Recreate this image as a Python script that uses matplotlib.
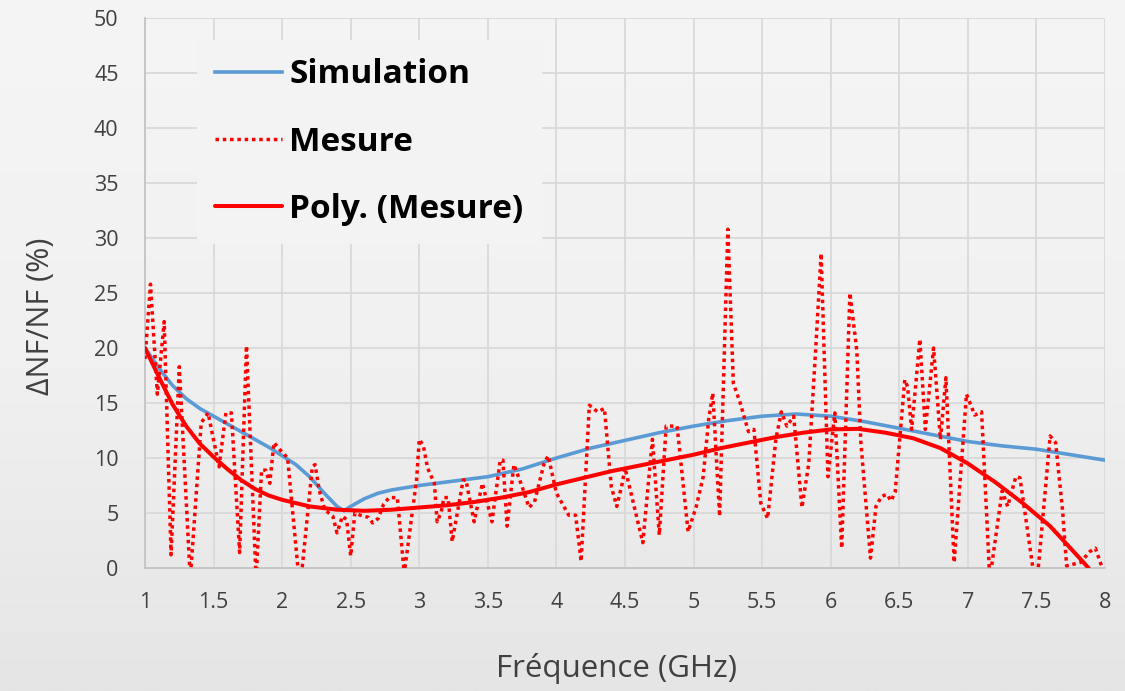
import matplotlib
matplotlib.use("Agg")
import matplotlib.pyplot as plt
from matplotlib.colors import LinearSegmentedColormap
import numpy as np

# ---- data ----
sim_x = [1.0, 1.1, 1.2, 1.3, 1.4, 1.5, 1.6, 1.7, 1.8, 1.9, 2.0, 2.1, 2.2, 2.3, 2.4, 2.45,
         2.5, 2.6, 2.7, 2.8, 3.0, 3.25, 3.5, 3.75, 4.0, 4.25, 4.5, 4.75, 5.0, 5.25, 5.5,
         5.75, 6.0, 6.25, 6.5, 6.75, 7.0, 7.25, 7.5, 7.75, 8.0]
sim_y = [20.0, 18.2, 16.6, 15.4, 14.5, 13.8, 13.1, 12.4, 11.7, 11.0, 10.2, 9.4, 8.3, 6.9, 5.6, 5.2,
         5.6, 6.3, 6.8, 7.1, 7.5, 7.9, 8.3, 9.0, 10.0, 10.9, 11.6, 12.3, 12.9, 13.4, 13.8,
         14.0, 13.8, 13.3, 12.7, 12.1, 11.5, 11.1, 10.8, 10.3, 9.8]

mes_x = [1.0, 1.04, 1.09, 1.14, 1.19, 1.25, 1.33, 1.41, 1.46, 1.54, 1.59, 1.63, 1.69, 1.74,
         1.81, 1.85, 1.88, 1.91, 1.94, 1.98, 2.04, 2.13, 2.22, 2.24, 2.27, 2.31, 2.37, 2.40,
         2.44, 2.47, 2.50, 2.53, 2.57, 2.63, 2.66, 2.70, 2.74, 2.78, 2.84, 2.89, 2.98, 3.00,
         3.03, 3.06, 3.11, 3.13, 3.16, 3.18, 3.21, 3.24, 3.32, 3.34, 3.40, 3.46, 3.53, 3.59,
         3.61, 3.64, 3.69, 3.75, 3.80, 3.84, 3.91, 3.94, 4.00, 4.09, 4.14, 4.18, 4.24, 4.30,
         4.35, 4.40, 4.44, 4.48, 4.50, 4.63, 4.70, 4.75, 4.80, 4.88, 4.96, 5.02, 5.07, 5.11,
         5.14, 5.19, 5.25, 5.29, 5.34, 5.40, 5.44, 5.49, 5.54, 5.60, 5.64, 5.68, 5.73, 5.79,
         5.84, 5.89, 5.93, 5.98, 6.03, 6.08, 6.14, 6.19, 6.22, 6.29, 6.33, 6.37, 6.41, 6.44,
         6.47, 6.54, 6.56, 6.59, 6.65, 6.69, 6.75, 6.80, 6.84, 6.90, 6.99, 7.05, 7.10, 7.16,
         7.25, 7.29, 7.35, 7.38, 7.48, 7.51, 7.60, 7.64, 7.69, 7.72, 7.82, 7.89, 7.93, 7.98,
         8.0]
mes_y = [19.0, 25.8, 15.8, 22.4, 1.2, 18.3, -1.0, 13.2, 14.1, 9.2, 14.1, 14.1, 1.4, 20.2,
         -1.0, 8.9, 8.9, 7.7, 11.4, 10.8, 10.0, -2.0, 9.2, 9.4, 7.1, 5.3, 4.7, 3.2,
         4.7, 4.4, 1.1, 5.0, 4.8, 4.6, 4.1, 4.5, 5.8, 6.4, 6.4, -0.5, 8.0, 11.7,
         11.1, 9.1, 7.7, 4.2, 5.1, 6.4, 6.4, 2.4, 8.0, 8.0, 4.2, 7.7, 4.2, 9.8,
         9.8, 3.8, 9.4, 7.4, 5.5, 6.0, 9.5, 10.2, 6.8, 4.8, 4.8, 0.6, 14.8, 14.2,
         14.5, 7.4, 5.6, 7.7, 9.1, 2.3, 11.7, 3.0, 12.9, 12.9, 3.3, 5.6, 8.3, 13.5,
         15.9, 4.7, 30.8, 16.8, 15.0, 12.4, 12.6, 5.9, 4.5, 11.7, 14.2, 12.9, 13.8, 5.5,
         9.5, 19.8, 28.6, 8.3, 14.1, 1.8, 25.0, 19.8, 11.4, 0.9, 5.6, 6.5, 6.7, 6.1,
         6.9, 17.1, 16.5, 12.6, 20.8, 12.6, 20.0, 11.7, 17.3, 0.5, 15.8, 13.9, 14.2, -1.0,
         7.0, 5.6, 8.3, 8.2, -0.5, -0.5, 12.0, 11.4, 5.3, 0.2, 0.5, 1.5, 1.8, 0.0,
         -1.0]

poly_x = [1.0, 1.1, 1.2, 1.3, 1.4, 1.5, 1.6, 1.7, 1.8, 1.9, 2.0, 2.2, 2.4, 2.6, 2.8, 3.0,
          3.2, 3.4, 3.6, 3.8, 4.0, 4.2, 4.4, 4.6, 4.8, 5.0, 5.2, 5.4, 5.6, 5.8, 6.0, 6.2,
          6.4, 6.6, 6.8, 7.0, 7.2, 7.4, 7.6, 7.8, 7.88]
poly_y = [20.0, 17.4, 14.9, 12.9, 11.3, 10.1, 9.0, 8.0, 7.2, 6.6, 6.2, 5.6, 5.3, 5.2, 5.3, 5.5,
          5.7, 6.0, 6.4, 6.9, 7.6, 8.2, 8.8, 9.3, 9.8, 10.3, 10.9, 11.4, 11.9, 12.3, 12.6, 12.65,
          12.3, 11.8, 10.9, 9.5, 7.8, 5.9, 3.8, 1.1, 0.0]

xticks = [1, 1.5, 2, 2.5, 3, 3.5, 4, 4.5, 5, 5.5, 6, 6.5, 7, 7.5, 8]
xtick_labels = ["1", "1.5", "2", "2.5", "3", "3.5", "4", "4.5", "5", "5.5", "6", "6.5", "7", "7.5", "8"]
yticks = [0, 5, 10, 15, 20, 25, 30, 35, 40, 45, 50]

labels = ["Simulation", "Mesure", "Poly. (Mesure)"]
xlabel = "Fréquence (GHz)"
ylabel = "ΔNF/NF (%)"

# ---- styling ----
font = ["Open Sans", "DejaVu Sans"]
W, H = 1125, 691
fig = plt.figure(figsize=(W / 100, H / 100), dpi=100, facecolor="#eeeeee")

# soft background gradient
bg = fig.add_axes([0, 0, 1, 1], zorder=-10)
grad = np.linspace(0, 1, 256).reshape(-1, 1)
cmap = LinearSegmentedColormap.from_list("bg", ["#f5f5f5", "#f1f1f1", "#e5e5e5"])
bg.imshow(grad, aspect="auto", cmap=cmap, extent=[0, 1, 0, 1], origin="upper")
bg.axis("off")

ax = fig.add_axes([145 / W, 1 - 568 / H, 960 / W, 550 / H])
ax.set_facecolor("none")

ax.plot(sim_x, sim_y, color="#5B9BD5", lw=2.6, label=labels[0], zorder=3)
ax.plot(mes_x, mes_y, color="#FF0000", lw=2.5, linestyle=(0, (1, 1.1)), label=labels[1], zorder=4)
ax.plot(poly_x, poly_y, color="#FF0000", lw=2.9, label=labels[2], zorder=5,
        solid_capstyle="round")

ax.set_xlim(1, 8)
ax.set_ylim(0, 50)
ax.set_xticks(xticks)
ax.set_xticklabels(xtick_labels, family=font, fontsize=15.5, color="#404040")
ax.set_yticks(yticks)
ax.set_yticklabels([str(v) for v in yticks], family=font, fontsize=15.5, color="#404040")
ax.tick_params(axis="both", length=0)
ax.tick_params(axis="x", pad=17)
ax.tick_params(axis="y", pad=19)

ax.grid(True, color="#d9d9d9", lw=1.3, zorder=0)
ax.set_axisbelow(True)
for s in ["top", "right"]:
    ax.spines[s].set_visible(False)
for s in ["left", "bottom"]:
    ax.spines[s].set_color("#c4c4c4")
    ax.spines[s].set_linewidth(1.3)

ax.set_xlabel(xlabel, family=font, fontsize=22.5, color="#404040")
ax.xaxis.set_label_coords((616 - 145) / 960, (568 - 653) / 550)
ax.set_ylabel(ylabel, family=font, fontsize=22, color="#404040")
ax.yaxis.set_label_coords((56 - 145) / 960, (568 - 316) / 550)

leg = ax.legend(loc="upper left", bbox_to_anchor=((197 - 145) / 960, (568 - 40) / 550),
                borderaxespad=0, frameon=True, fancybox=False, facecolor="#f3f3f3",
                edgecolor="none", framealpha=1.0, handlelength=2.0, handletextpad=0.22,
                labelspacing=1.03, borderpad=0.55,
                prop={"family": font, "weight": "bold", "size": 24})
leg.set_zorder(6)

fig.savefig("out.png", dpi=100, facecolor=fig.get_facecolor())
